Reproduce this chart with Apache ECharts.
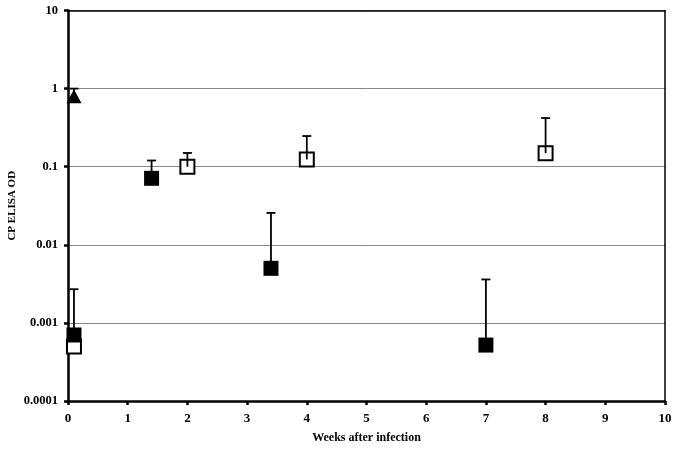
<!DOCTYPE html>
<html>
<head>
<meta charset="utf-8">
<script src="https://cdn.jsdelivr.net/npm/echarts@6/dist/echarts.min.js"></script>
<style>html,body{margin:0;padding:0;background:#fff}#c{width:678px;height:453px}</style>
</head>
<body>
<div id="c"></div>
<script>
// Tick labels
const xTickLabels = ['0','1','2','3','4','5','6','7','8','9','10'];
const yTickLabels = ['0.0001','0.001','0.01','0.1','1','10'];

// Filled squares
const filledX  = [0.1, 1.4, 3.4, 7];
const filledY  = [0.0007, 0.071, 0.005, 0.00052];
const filledHi = [0.0027, 0.12, 0.0256, 0.0036];

// Open squares
const openX  = [0.1, 2, 4, 8];
const openY  = [0.0005, 0.1, 0.124, 0.149];
const openHi = [null, 0.15, 0.247, 0.42];

// Filled triangle
const triX  = [0.1];
const triY  = [0.8];
const triHi = [1.0];

const font = '"Liberation Serif","Times New Roman",serif';

function pts(xs, ys){ return xs.map((x,i)=>[x, ys[i]]); }
function errs(xs, ys, his){
  const out=[];
  xs.forEach((x,i)=>{ if(his[i]!=null) out.push([x, ys[i], his[i]]); });
  return out;
}
const errData = [].concat(errs(filledX,filledY,filledHi), errs(openX,openY,openHi), errs(triX,triY,triHi));

const chart = echarts.init(document.getElementById('c'), null, {renderer:'canvas'});
chart.setOption({
  animation:false,
  backgroundColor:'#fff',
  grid:{left:68, right:13, top:10.5, bottom:52, outerBoundsMode:'none', containLabel:false},
  xAxis:[{
    type:'value', min:0, max:10, interval:1,
    name:'Weeks after infection', nameLocation:'middle', nameGap:31, nameMoveOverlap:false,
    nameTextStyle:{fontFamily:font, fontWeight:'bold', fontSize:12, color:'#000'},
    axisLine:{show:true, onZero:false, lineStyle:{color:'#000', width:2.5}},
    axisTick:{show:true, length:4, lineStyle:{color:'#000', width:2.5}},
    axisLabel:{margin:11, fontFamily:font, fontWeight:'bold', fontSize:13, color:'#000',
      formatter:(v)=>xTickLabels[Math.round(v)]},
    splitLine:{show:false}
  },{
    type:'value', min:0, max:10, position:'top',
    axisLine:{show:true, onZero:false, lineStyle:{color:'#000', width:1.5}},
    axisTick:{show:false}, axisLabel:{show:false}, splitLine:{show:false}
  }],
  yAxis:[{
    type:'log', logBase:10, min:0.0001, max:10,
    name:'CP ELISA OD', nameLocation:'middle', nameGap:50, nameRotate:90, nameMoveOverlap:false,
    nameTextStyle:{fontFamily:font, fontWeight:'bold', fontSize:11, color:'#000'},
    axisLine:{show:true, onZero:false, lineStyle:{color:'#000', width:2.5}},
    axisTick:{show:true, length:4, lineStyle:{color:'#000', width:2.5}},
    axisLabel:{margin:10, fontFamily:font, fontWeight:'bold', fontSize:12.5, color:'#000',
      formatter:(v)=>yTickLabels[Math.round(Math.log10(v))+4]},
    splitLine:{show:true, lineStyle:{color:'#888', width:1}}
  },{
    type:'log', logBase:10, min:0.0001, max:10, position:'right',
    axisLine:{show:true, onZero:false, lineStyle:{color:'#000', width:1.5}},
    axisTick:{show:false}, axisLabel:{show:false}, splitLine:{show:false}
  }],
  series:[
    {type:'scatter', name:'open', data:pts(openX,openY), symbol:'rect', symbolSize:14,
     itemStyle:{color:'#fff', borderColor:'#000', borderWidth:2, opacity:1}, z:2},
    {type:'custom', name:'err', data:errData, z:3,
     renderItem:function(params, api){
       const p = api.coord([api.value(0), api.value(1)]);
       const q = api.coord([api.value(0), api.value(2)]);
       return {type:'group', children:[
         {type:'line', shape:{x1:p[0], y1:p[1], x2:q[0], y2:q[1]}, style:{stroke:'#000', lineWidth:1.8}},
         {type:'line', shape:{x1:q[0]-4.5, y1:q[1], x2:q[0]+4.5, y2:q[1]}, style:{stroke:'#000', lineWidth:1.8}}
       ]};
     }},
    {type:'scatter', name:'filled', data:pts(filledX,filledY), symbol:'rect', symbolSize:15,
     itemStyle:{color:'#000', opacity:1}, z:4},
    {type:'scatter', name:'tri', data:pts(triX,triY), symbol:'triangle', symbolSize:[15,14],
     itemStyle:{color:'#000', opacity:1}, z:4}
  ]
});
</script>
</body>
</html>
